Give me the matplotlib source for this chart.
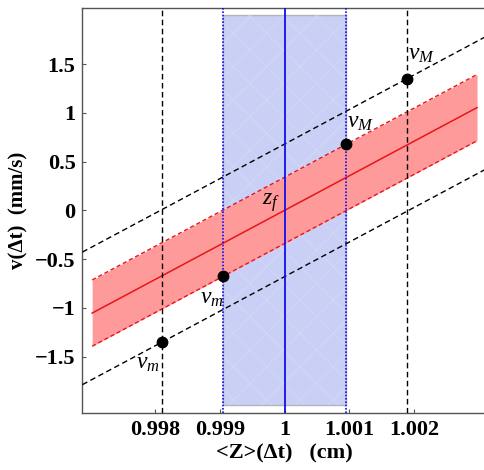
import matplotlib
matplotlib.use("Agg")
from matplotlib import pyplot as plt
from matplotlib.patches import Rectangle

plt.rcParams['font.family'] = ['Liberation Serif', 'DejaVu Serif']
plt.rcParams['mathtext.fontset'] = 'custom'
plt.rcParams['mathtext.rm'] = 'Liberation Serif'
plt.rcParams['mathtext.it'] = 'Liberation Serif:italic'
plt.rcParams['hatch.linewidth'] = 0.5

# data
band_z = [0.99703, 1.00297]
band_mid = [-1.054, 1.054]
band_top = [-0.714, 1.394]
band_bot = [-1.394, 0.714]

full_z = [0.99688, 1.00312]
upper_v = [-0.428, 1.788]
lower_v = [-1.788, 0.428]

z_f = 1.0
window = [0.99905, 1.00095]
outer = [0.99811, 1.00189]

pts_z = [0.99811, 0.99905, 1.00095, 1.00189]
pts_v = [-1.351, -0.677, 0.677, 1.351]

xticks = [0.998, 0.999, 1.0, 1.001, 1.002]
xtick_labels = ['0.998', '0.999', '1', '1.001', '1.002']
yticks = [-1.5, -1, -0.5, 0, 0.5, 1, 1.5]
ytick_labels = ['\u22121.5', '\u22121', '\u22120.5', '0', '0.5', '1', '1.5']

labels = [('$v_M$', 1.00212, 1.595), ('$v_M$', 1.001165, 0.897),
          ('$z_f$', 0.99979, 0.077), ('$v_m$', 0.99888, -0.908),
          ('$v_m$', 0.99789, -1.575)]

fig = plt.figure(figsize=(4.85, 4.7), dpi=100)
ax = fig.add_axes([0.1701, 0.1219, 0.8334, 0.8611])
ax.set_xlim(0.996881, 1.003119)
ax.set_ylim(-2.076, 2.076)

# measurement window
ax.add_patch(Rectangle((window[0], -2), window[1] - window[0], 4,
                       facecolor='#c9cff5', edgecolor='#b4b4bc', lw=1, zorder=1))
ax.add_patch(Rectangle((window[0], -2), window[1] - window[0], 4,
                       facecolor='none', edgecolor='#d6daf8', hatch='x', lw=0, zorder=1))

# red band
ax.fill_between(band_z, band_bot, band_top, color='#ff9a9a', lw=0, zorder=2)
ax.plot(band_z, band_mid, color='#e8151a', lw=1.1, zorder=3)
ax.plot(band_z, band_top, color='#e8151a', lw=1.0, dashes=(3, 2), zorder=3)
ax.plot(band_z, band_bot, color='#e8151a', lw=1.0, dashes=(3, 2), zorder=3)

# outer dashed lines
ax.plot(full_z, upper_v, color='black', lw=1.0, dashes=(4, 2.5), zorder=3)
ax.plot(full_z, lower_v, color='black', lw=1.0, dashes=(4, 2.5), zorder=3)

# verticals
ax.axvline(z_f, color='#1010f0', lw=1.3, zorder=4)
for z in window:
    ax.plot([z, z], [-2.076, 2.076], color='#1010f0', lw=1.2, dashes=(1, 1), zorder=4)
for z in outer:
    ax.plot([z, z], [-2.076, 2.076], color='black', lw=1.0, dashes=(4, 2.5), zorder=4)

ax.plot(pts_z, pts_v, 'o', color='black', ms=7.5, zorder=5)

for txt, x, y in labels:
    ax.text(x, y, txt, fontsize=17, ha='center', va='center', zorder=6)

ax.set_xticks(xticks)
ax.set_xticklabels(xtick_labels)
ax.set_yticks(yticks)
ax.set_yticklabels(ytick_labels)
ax.tick_params(direction='in', length=3, width=0.8, color='#555555',
               labelsize=16, pad=5)
for lab in ax.get_xticklabels() + ax.get_yticklabels():
    lab.set_fontweight('bold')
for s in ax.spines.values():
    s.set_color('#555555')
    s.set_linewidth(1.0)

fig.text(284 / 485, 1 - 453 / 470, '<Z>(\u0394t)   (cm)', fontsize=16,
         fontweight='bold', ha='center', va='center')
fig.text(18 / 485, 1 - 210 / 470, 'v(\u0394t)  (mm/s)', fontsize=15,
         fontweight='bold', ha='center', va='center', rotation=90)

fig.savefig('out.png', dpi=100)
